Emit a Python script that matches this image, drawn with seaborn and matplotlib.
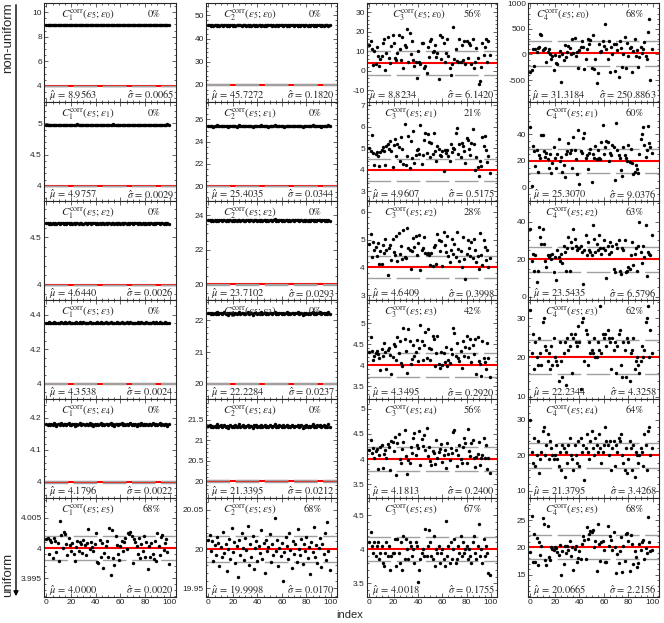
import numpy as np
import matplotlib
matplotlib.use("Agg")
import matplotlib.pyplot as plt
import seaborn as sns
from matplotlib.patches import FancyArrowPatch
from matplotlib.ticker import AutoMinorLocator, FixedLocator, FuncFormatter

sns.set_style("ticks")
plt.rcParams['font.family'] = ['Liberation Sans', 'DejaVu Sans']
plt.rcParams['mathtext.fontset'] = 'stix'

index = np.arange(100)

# ---- C1 column (truth = 4) ----
c1_e0 = [8.956, 8.962, 8.951, 8.958, 8.949, 8.960, 8.955, 8.966, 8.953, 8.957,
         8.961, 8.950, 8.956, 8.963, 8.954, 8.959, 8.947, 8.957, 8.964, 8.952,
         8.958, 8.955, 8.960, 8.949, 8.956, 8.967, 8.953, 8.958, 8.961, 8.955,
         8.950, 8.957, 8.963, 8.954, 8.959, 8.956, 8.946, 8.960, 8.957, 8.962,
         8.953, 8.958, 8.955, 8.965, 8.951, 8.957, 8.960, 8.954, 8.958, 8.949,
         8.962, 8.956, 8.953, 8.959, 8.968, 8.955, 8.957, 8.950, 8.961, 8.956,
         8.954, 8.960, 8.948, 8.957, 8.963, 8.952, 8.958, 8.955, 8.961, 8.957,
         8.951, 8.959, 8.956, 8.964, 8.953, 8.957, 8.960, 8.947, 8.958, 8.955,
         8.962, 8.954, 8.957, 8.950, 8.959, 8.966, 8.955, 8.958, 8.952, 8.960,
         8.956, 8.963, 8.949, 8.957, 8.961, 8.954, 8.958, 8.955, 8.967, 8.953]
c1_e1 = [4.976, 4.978, 4.973, 4.977, 4.972, 4.976, 4.975, 4.980, 4.974, 4.976,
         4.978, 4.973, 4.976, 4.979, 4.974, 4.977, 4.971, 4.976, 4.979, 4.974,
         4.977, 4.975, 4.978, 4.972, 4.976, 4.981, 4.974, 4.976, 4.978, 4.975,
         4.973, 4.976, 4.979, 4.974, 4.977, 4.976, 4.971, 4.978, 4.976, 4.978,
         4.974, 4.977, 4.975, 4.980, 4.973, 4.976, 4.978, 4.974, 4.977, 4.972,
         4.978, 4.976, 4.974, 4.977, 4.981, 4.975, 4.976, 4.973, 4.978, 4.976,
         4.974, 4.978, 4.972, 4.976, 4.979, 4.973, 4.977, 4.975, 4.978, 4.976,
         4.973, 4.977, 4.976, 4.979, 4.974, 4.976, 4.978, 4.971, 4.977, 4.975,
         4.978, 4.974, 4.976, 4.973, 4.977, 4.980, 4.975, 4.977, 4.974, 4.978,
         4.976, 4.979, 4.972, 4.976, 4.978, 4.974, 4.977, 4.975, 4.981, 4.974]
c1_e2 = [4.644, 4.646, 4.641, 4.645, 4.640, 4.644, 4.643, 4.648, 4.642, 4.644,
         4.646, 4.641, 4.644, 4.647, 4.642, 4.645, 4.639, 4.644, 4.647, 4.642,
         4.645, 4.643, 4.646, 4.640, 4.644, 4.649, 4.642, 4.644, 4.646, 4.643,
         4.641, 4.644, 4.647, 4.642, 4.645, 4.644, 4.639, 4.646, 4.644, 4.646,
         4.642, 4.645, 4.643, 4.648, 4.641, 4.644, 4.646, 4.642, 4.645, 4.640,
         4.646, 4.644, 4.642, 4.645, 4.649, 4.643, 4.644, 4.641, 4.646, 4.644,
         4.642, 4.646, 4.640, 4.644, 4.647, 4.641, 4.645, 4.643, 4.646, 4.644,
         4.641, 4.645, 4.644, 4.647, 4.642, 4.644, 4.646, 4.639, 4.645, 4.643,
         4.646, 4.642, 4.644, 4.641, 4.645, 4.648, 4.643, 4.645, 4.642, 4.646,
         4.644, 4.647, 4.640, 4.644, 4.646, 4.642, 4.645, 4.643, 4.649, 4.642]
c1_e3 = [4.354, 4.352, 4.356, 4.351, 4.355, 4.353, 4.357, 4.354, 4.350, 4.354,
         4.355, 4.353, 4.358, 4.352, 4.354, 4.356, 4.351, 4.354, 4.357, 4.353,
         4.352, 4.355, 4.354, 4.350, 4.356, 4.353, 4.355, 4.358, 4.352, 4.354,
         4.356, 4.351, 4.354, 4.355, 4.353, 4.357, 4.352, 4.354, 4.350, 4.355,
         4.353, 4.356, 4.352, 4.354, 4.358, 4.351, 4.355, 4.353, 4.356, 4.354,
         4.351, 4.354, 4.357, 4.353, 4.355, 4.350, 4.354, 4.356, 4.352, 4.355,
         4.354, 4.358, 4.352, 4.355, 4.353, 4.356, 4.351, 4.354, 4.357, 4.353,
         4.355, 4.352, 4.354, 4.350, 4.356, 4.354, 4.353, 4.357, 4.352, 4.355,
         4.353, 4.356, 4.351, 4.354, 4.355, 4.352, 4.358, 4.354, 4.353, 4.356,
         4.352, 4.354, 4.357, 4.351, 4.355, 4.353, 4.356, 4.354, 4.350, 4.355]
c1_e4 = [4.180, 4.178, 4.182, 4.177, 4.181, 4.179, 4.183, 4.180, 4.176, 4.180,
         4.181, 4.179, 4.184, 4.178, 4.180, 4.182, 4.177, 4.180, 4.183, 4.179,
         4.178, 4.181, 4.180, 4.176, 4.182, 4.179, 4.181, 4.184, 4.178, 4.180,
         4.182, 4.177, 4.180, 4.181, 4.179, 4.183, 4.178, 4.180, 4.176, 4.181,
         4.179, 4.182, 4.178, 4.180, 4.184, 4.177, 4.181, 4.179, 4.182, 4.180,
         4.177, 4.180, 4.183, 4.179, 4.181, 4.176, 4.180, 4.182, 4.178, 4.181,
         4.180, 4.184, 4.178, 4.181, 4.179, 4.182, 4.177, 4.180, 4.183, 4.179,
         4.181, 4.178, 4.180, 4.176, 4.182, 4.180, 4.179, 4.183, 4.178, 4.181,
         4.179, 4.182, 4.177, 4.180, 4.181, 4.178, 4.184, 4.180, 4.179, 4.182,
         4.178, 4.180, 4.183, 4.177, 4.181, 4.179, 4.182, 4.180, 4.176, 4.181]
c1_e5 = [4.0015, 4.0016, 3.9990, 4.0013, 4.0010, 3.9984, 4.0017, 4.0012, 3.9993, 4.0008,
         3.9978, 4.0045, 4.0021, 4.0000, 4.0027, 4.0023, 4.0007, 3.9988, 4.0017, 4.0005,
         3.9995, 4.0008, 3.9990, 3.9978, 4.0002, 4.0012, 3.9996, 4.0010, 4.0006, 3.9992,
         4.0014, 4.0005, 3.9988, 4.0008, 4.0032, 3.9999, 4.0010, 4.0002, 3.9996, 4.0007,
         4.0025, 3.9977, 3.9976, 4.0014, 3.9985, 4.0008, 3.9967, 3.9992, 4.0003, 4.0011,
         3.9985, 4.0033, 3.9955, 4.0030, 3.9984, 3.9972, 4.0020, 4.0005, 3.9990, 3.9981,
         4.0003, 4.0012, 3.9996, 4.0010, 4.0017, 3.9998, 4.0025, 4.0023, 4.0026, 4.0020,
         3.9975, 4.0015, 4.0010, 4.0004, 3.9990, 4.0017, 3.9983, 4.0006, 3.9995, 4.0020,
         3.9985, 4.0010, 3.9966, 4.0003, 3.9985, 4.0008, 3.9990, 3.9982, 4.0011, 3.9979,
         4.0025, 4.0003, 3.9988, 4.0019, 4.0022, 3.9997, 4.0009, 4.0015, 3.9993, 3.9973]

# ---- C2 column (truth = 20) ----
c2_e0 = [45.73, 45.91, 45.52, 45.80, 45.61, 45.70, 45.95, 45.64, 45.77, 45.48,
         45.85, 45.69, 45.58, 45.74, 46.02, 45.66, 45.79, 45.55, 45.88, 45.71,
         45.63, 45.82, 45.45, 45.76, 45.68, 45.93, 45.72, 45.57, 45.84, 45.70,
         45.90, 45.60, 45.75, 45.50, 45.81, 45.67, 45.98, 45.73, 45.62, 45.78,
         45.54, 45.86, 45.71, 45.65, 45.89, 45.59, 45.77, 45.44, 45.83, 45.69,
         45.74, 45.96, 45.61, 45.80, 45.56, 45.72, 45.87, 45.66, 46.05, 45.70,
         45.79, 45.53, 45.75, 45.92, 45.64, 45.81, 45.47, 45.73, 45.68, 45.85,
         45.58, 45.77, 45.99, 45.62, 45.74, 45.51, 45.86, 45.70, 45.66, 45.91,
         45.72, 45.60, 45.83, 45.55, 45.78, 45.94, 45.67, 45.75, 45.49, 45.82,
         45.69, 45.88, 45.63, 45.76, 45.57, 45.84, 45.71, 46.00, 45.65, 45.79]
c2_e1 = [25.40, 25.44, 25.37, 25.42, 25.36, 25.41, 25.39, 25.46, 25.38, 25.40,
         25.43, 25.37, 25.41, 25.45, 25.38, 25.42, 25.35, 25.40, 25.44, 25.38,
         25.42, 25.39, 25.43, 25.36, 25.40, 25.47, 25.38, 25.41, 25.43, 25.39,
         25.37, 25.40, 25.44, 25.38, 25.42, 25.40, 25.35, 25.43, 25.40, 25.44,
         25.38, 25.42, 25.39, 25.46, 25.37, 25.40, 25.43, 25.38, 25.42, 25.36,
         25.43, 25.40, 25.38, 25.42, 25.47, 25.39, 25.40, 25.37, 25.43, 25.41,
         25.38, 25.43, 25.36, 25.40, 25.44, 25.37, 25.42, 25.39, 25.43, 25.40,
         25.37, 25.42, 25.40, 25.45, 25.38, 25.41, 25.43, 25.35, 25.42, 25.39,
         25.43, 25.38, 25.40, 25.37, 25.42, 25.46, 25.39, 25.42, 25.38, 25.43,
         25.40, 25.44, 25.36, 25.41, 25.43, 25.38, 25.42, 25.39, 25.47, 25.38]
c2_e2 = [23.71, 23.74, 23.68, 23.72, 23.67, 23.71, 23.70, 23.76, 23.69, 23.71,
         23.74, 23.68, 23.71, 23.75, 23.69, 23.72, 23.66, 23.71, 23.74, 23.69,
         23.72, 23.70, 23.73, 23.67, 23.71, 23.76, 23.69, 23.71, 23.73, 23.70,
         23.68, 23.71, 23.74, 23.69, 23.72, 23.71, 23.66, 23.73, 23.71, 23.74,
         23.69, 23.72, 23.70, 23.75, 23.68, 23.71, 23.73, 23.69, 23.72, 23.67,
         23.73, 23.71, 23.69, 23.72, 23.77, 23.70, 23.71, 23.68, 23.73, 23.71,
         23.69, 23.73, 23.67, 23.71, 23.74, 23.68, 23.72, 23.70, 23.73, 23.71,
         23.68, 23.72, 23.71, 23.75, 23.69, 23.71, 23.73, 23.66, 23.72, 23.70,
         23.73, 23.69, 23.71, 23.68, 23.72, 23.76, 23.70, 23.72, 23.69, 23.73,
         23.71, 23.74, 23.67, 23.71, 23.73, 23.69, 23.72, 23.70, 23.76, 23.69]
c2_e3 = [22.23, 22.25, 22.20, 22.24, 22.21, 22.23, 22.22, 22.27, 22.21, 22.23,
         22.25, 22.21, 22.23, 22.26, 22.22, 22.24, 22.19, 22.23, 22.25, 22.21,
         22.24, 22.22, 22.25, 22.20, 22.23, 22.27, 22.21, 22.23, 22.25, 22.22,
         22.21, 22.23, 22.26, 22.21, 22.24, 22.23, 22.19, 22.25, 22.23, 22.25,
         22.21, 22.24, 22.22, 22.26, 22.20, 22.23, 22.25, 22.21, 22.24, 22.20,
         22.25, 22.23, 22.21, 22.24, 22.27, 22.22, 22.23, 22.20, 22.25, 22.23,
         22.21, 22.25, 22.20, 22.23, 22.26, 22.21, 22.24, 22.22, 22.25, 22.23,
         22.20, 22.24, 22.23, 22.26, 22.21, 22.23, 22.25, 22.19, 22.24, 22.22,
         22.25, 22.21, 22.23, 22.20, 22.24, 22.27, 22.22, 22.24, 22.21, 22.25,
         22.23, 22.26, 22.20, 22.23, 22.25, 22.21, 22.24, 22.22, 22.27, 22.21]
c2_e4 = [21.34, 21.36, 21.32, 21.35, 21.31, 21.34, 21.33, 21.38, 21.32, 21.34,
         21.36, 21.32, 21.34, 21.37, 21.32, 21.35, 21.30, 21.34, 21.36, 21.32,
         21.35, 21.33, 21.36, 21.31, 21.34, 21.38, 21.32, 21.34, 21.36, 21.33,
         21.32, 21.34, 21.37, 21.32, 21.35, 21.34, 21.30, 21.36, 21.34, 21.36,
         21.32, 21.35, 21.33, 21.37, 21.31, 21.34, 21.36, 21.32, 21.35, 21.31,
         21.36, 21.34, 21.32, 21.35, 21.38, 21.33, 21.34, 21.31, 21.36, 21.34,
         21.32, 21.36, 21.31, 21.34, 21.37, 21.32, 21.35, 21.33, 21.36, 21.34,
         21.31, 21.35, 21.34, 21.37, 21.32, 21.34, 21.36, 21.30, 21.35, 21.33,
         21.36, 21.32, 21.34, 21.31, 21.35, 21.38, 21.33, 21.35, 21.32, 21.36,
         21.34, 21.37, 21.31, 21.34, 21.36, 21.32, 21.35, 21.33, 21.38, 21.32]
c2_e5 = [20.012, 20.018, 19.998, 20.010, 19.985, 20.005, 19.992, 20.015, 20.008, 19.978,
         20.003, 19.990, 20.022, 19.995, 20.007, 19.972, 20.000, 20.013, 19.988, 20.027,
         19.996, 20.009, 19.982, 20.004, 19.965, 20.011, 19.993, 20.020, 20.002, 19.986,
         20.014, 19.999, 20.030, 19.980, 20.006, 19.990, 20.017, 19.975, 20.001, 20.010,
         19.985, 20.004, 19.995, 20.024, 19.988, 20.008, 19.970, 20.012, 19.997, 20.003,
         20.019, 19.983, 20.006, 19.993, 20.040, 19.998, 20.011, 19.979, 20.002, 19.991,
         20.008, 19.960, 19.996, 20.015, 20.004, 19.987, 20.021, 19.999, 19.976, 20.010,
         19.994, 20.006, 19.984, 20.025, 20.000, 19.992, 20.013, 19.981, 20.007, 19.997,
         20.016, 19.989, 20.003, 19.968, 20.009, 19.996, 20.028, 19.990, 20.005, 19.982,
         20.001, 20.014, 19.977, 20.007, 19.994, 20.020, 19.986, 20.035, 19.998, 19.974]

# ---- C3 column (truth = 4) ----
c3_e0 = [13.2, 15.4, 11.3, 3.1, 10.2, 3.4, 12.1, 7.3, 2.6, 6.2,
         7.4, 14.2, 16.3, 0.4, 9.1, 17.2, 6.3, 4.1, 12.4, 18.1,
         14.3, 6.4, 5.2, 9.3, 18.2, 11.1, 5.4, 17.3, 1.2, 13.4,
         12.2, 21.3, 4.4, 19.2, 8.3, 15.1, 5.3, 2.4, 4.2, -3.6,
         10.3, 4.6, 3.2, 14.1, 14.4, 1.3, 2.2, -1.4, 12.3, 7.2,
         15.2, 16.1, 9.4, 10.1, 13.3, 7.1, 9.2, -4.2, 18.3, 6.1,
         17.1, 14.2, 4.3, 9.2, 16.2, 7.4, 1.4, -2.3, 3.3, 22.4,
         6.2, 11.2, 5.1, 4.4, 16.4, 4.2, 13.1, 5.3, 15.3, 3.2,
         15.1, 6.3, 14.1, 13.2, 3.4, 16.2, 1.1, 4.3, 11.4, 6.4,
         -7.1, -5.3, 2.1, 14.3, 8.2, 12.1, 16.3, 4.4, 15.2, 8.1]
c3_e1 = [5.02, 4.87, 5.61, 4.78, 4.23, 4.71, 4.83, 4.64, 4.18, 4.81,
         4.93, 5.04, 4.88, 4.22, 5.12, 5.21, 4.97, 5.33, 4.86, 4.12,
         5.14, 5.42, 4.63, 5.18, 5.07, 4.41, 5.52, 4.96, 4.28, 6.11,
         4.24, 4.62, 5.58, 4.08, 5.31, 4.56, 5.79, 4.33, 4.69, 4.91,
         4.98, 4.74, 6.08, 4.27, 4.68, 5.38, 5.71, 4.79, 5.64, 5.27,
         4.58, 5.23, 4.72, 5.68, 4.87, 4.39, 5.09, 4.98, 4.66, 4.62,
         4.86, 3.93, 4.91, 4.77, 4.92, 4.63, 4.42, 5.17, 4.82, 5.02,
         4.97, 5.72, 5.93, 4.73, 5.19, 4.61, 5.22, 5.08, 4.88, 4.31,
         5.48, 5.36, 4.94, 4.68, 5.24, 5.88, 5.17, 3.98, 4.57, 4.14,
         3.72, 4.41, 4.18, 5.53, 5.08, 5.57, 4.92, 4.34, 4.63, 3.84]
c3_e2 = [4.83, 5.21, 4.38, 4.92, 4.61, 4.74, 4.42, 4.87, 4.13, 4.58,
         4.12, 4.79, 4.52, 5.03, 4.64, 3.73, 4.71, 4.82, 4.27, 5.01,
         4.56, 4.43, 5.12, 4.22, 5.24, 4.48, 4.77, 4.31, 5.33, 4.36,
         4.34, 5.41, 4.68, 4.62, 3.93, 4.57, 5.04, 4.73, 5.14, 4.44,
         4.88, 5.18, 3.91, 4.63, 4.69, 5.08, 4.52, 4.49, 4.51, 4.46,
         4.08, 4.53, 4.03, 4.72, 4.81, 4.11, 5.19, 4.98, 4.58, 4.93,
         4.04, 5.27, 4.79, 4.54, 5.11, 4.39, 4.18, 4.61, 5.02, 4.48,
         4.84, 4.37, 5.29, 4.67, 4.21, 4.59, 4.02, 5.09, 4.29, 3.58,
         4.47, 4.97, 4.71, 4.42, 4.91, 4.33, 5.01, 4.64, 4.19, 4.41,
         3.92, 5.23, 4.44, 4.07, 4.99, 4.73, 4.28, 4.62, 4.01, 4.32]
c3_e3 = [4.31, 4.68, 4.34, 4.12, 4.22, 4.29, 4.33, 4.27, 4.18, 3.88,
         4.38, 4.21, 4.52, 4.32, 3.91, 4.36, 4.41, 4.24, 3.78, 4.19,
         4.51, 4.47, 4.13, 4.67, 4.28, 4.58, 4.06, 3.97, 4.89, 4.63,
         4.34, 3.82, 4.87, 4.59, 4.02, 4.14, 4.48, 4.23, 4.31, 4.61,
         4.09, 4.42, 4.96, 4.57, 4.12, 4.49, 4.79, 4.18, 4.87, 4.41,
         4.13, 4.38, 4.71, 4.62, 3.98, 4.29, 4.69, 4.03, 3.94, 4.32,
         4.01, 4.28, 4.08, 4.43, 3.99, 4.12, 4.04, 4.39, 4.27, 4.88,
         4.77, 4.21, 4.52, 4.18, 4.09, 4.33, 3.93, 4.58, 4.22, 4.44,
         4.71, 4.19, 4.42, 4.62, 4.07, 4.48, 4.26, 4.63, 3.79, 4.68,
         4.11, 4.03, 3.74, 4.57, 4.17, 4.08, 3.92, 4.52, 4.16, 3.72]
c3_e4 = [4.19, 4.37, 4.12, 4.22, 4.03, 4.17, 4.21, 3.81, 4.08, 4.24,
         4.28, 3.83, 4.11, 4.19, 4.02, 4.29, 4.23, 3.79, 4.36, 4.33,
         4.17, 4.43, 3.69, 4.31, 4.49, 4.01, 3.93, 4.21, 4.34, 4.58,
         4.07, 3.71, 3.98, 3.92, 4.24, 4.13, 4.41, 4.52, 4.09, 4.27,
         4.22, 4.56, 3.88, 4.39, 4.26, 4.47, 4.18, 4.61, 4.06, 4.23,
         3.97, 3.89, 4.17, 4.12, 3.91, 4.38, 4.02, 4.14, 4.21, 4.29,
         3.94, 4.08, 4.19, 3.82, 4.31, 4.11, 3.98, 4.22, 4.13, 4.54,
         4.57, 4.18, 3.87, 4.09, 4.27, 4.01, 3.93, 4.24, 4.42, 4.31,
         3.92, 4.59, 4.16, 4.07, 4.32, 4.38, 4.02, 3.84, 4.04, 4.11,
         4.33, 3.89, 4.03, 4.09, 4.42, 4.02, 4.28, 3.81, 4.03, 3.73]
c3_e5 = [4.10, 4.25, 4.05, 3.95, 4.10, 3.90, 4.05, 4.10, 3.85, 3.95,
         4.05, 3.80, 3.75, 3.95, 4.10, 3.90, 4.05, 3.70, 3.90, 3.95,
         3.95, 4.15, 3.75, 4.15, 3.95, 3.80, 4.10, 3.70, 4.20, 3.85,
         4.15, 4.00, 3.85, 4.10, 4.05, 3.90, 4.00, 3.80, 4.10, 4.05,
         3.52, 3.70, 3.85, 3.95, 4.00, 3.90, 4.30, 3.90, 4.05, 4.28,
         4.10, 3.90, 3.85, 4.20, 3.75, 4.00, 3.95, 4.05, 3.80, 3.95,
         4.00, 3.85, 3.75, 4.42, 3.90, 4.05, 3.80, 4.10, 3.85, 4.00,
         4.15, 3.80, 3.85, 4.05, 3.95, 4.20, 3.90, 4.10, 3.95, 4.00,
         4.05, 3.85, 4.00, 3.90, 3.80, 4.10, 4.20, 3.95, 3.85, 4.05,
         4.37, 3.90, 4.00, 3.80, 4.15, 3.90, 4.05, 3.95, 3.65, 3.62]

# ---- C4 column (truth = 20) ----
c4_e0 = [-350, -300, 100, -230, 110, 50, 120, 150, 400, 380,
         80, 110, 130, -150, 50, 100, 10, -80, -20, -310,
         -10, -170, -190, -30, 70, -530, 10, -110, 180, -50,
         50, 160, 130, 0, 310, 30, 320, -20, 50, -260,
         80, 150, 260, 150, -290, -80, 110, 300, 200, 280,
         -270, 380, -280, -80, -550, -370, 200, 50, 70, 260,
         170, 600, 100, -90, 270, -350, 150, 10, 210, -320,
         200, 80, -430, 260, 130, -250, 10, 350, -270, 230,
         -20, 120, 150, -340, 70, 310, -30, 90, -250, -50,
         150, 30, 100, 250, -20, -80, 440, 700, -490, 110]
c4_e1 = [45, 1, 31, 27, 16, 28, 12, 24, 22, 39,
         39, 27, 23, 26, 21, 15, 25, 11, 18, 30,
         22, 15, 25, 36, 20, 23, 12, 17, 8, 25,
         27, 33, 26, 28, 15, 38, 28, 21, 10, 43,
         3, 27, 26, 37, 41, 22, 24, 14, 26, 29,
         4, 25, 22, 31, 21, 28, 22, 21, 34, 47,
         25, 30, 35, 34, 20, 26, 24, 32, 30, 6,
         48, 28, 24, 22, 13, 9, 30, 24, 22, 20,
         32, 19, 29, 18, 10, 12, 17, 14, 11, 25,
         36, 40, 45, 32, 23, 28, 46, 33, 30, 26]
c4_e2 = [36, 19, 23, 14, 22, 8, 14, 37, 32, 28,
         36, 28, 19, 16, 22, 21, 22, 20, 23, 13,
         21, 9, 25, 21, 19, 23, 18, 27, 24, 14,
         26, 32, 14, 29, 26, 36, 31, 27, 25, 26,
         26, 27, 24, 7, 25, 33, 22, 29, 25, 24,
         22, 38, 31, 24, 28, 25, 33, 26, 23, 26,
         30, 25, 10, 27, 23, 29, 24, 27, 15, 13,
         28, 26, 30, 14, 12, 26, 25, 30, 13, 14,
         16, 15, 22, 29, 17, 23, 26, 14, 27, 40,
         24, 18, 27, 21, 38, 11, 24, 23, 22, 33]
c4_e3 = [32, 21, 26, 17, 24, 20, 18, 25, 21, 18,
         29, 30, 23, 22, 19, 21, 17, 23, 18, 25,
         20, 19, 18, 14, 24, 19, 15, 21, 24, 13,
         25, 22, 23, 26, 16, 25, 26, 24, 23, 28,
         24, 12, 29, 30, 19, 27, 26, 18, 24, 21,
         22, 21, 25, 20, 20, 24, 22, 33, 21, 26,
         25, 26, 23, 27, 25, 24, 17, 25, 22, 24,
         16, 23, 26, 27, 18, 15, 24, 22, 15, 25,
         24, 14, 21, 22, 25, 17, 19, 20, 18, 16,
         19, 23, 20, 22, 29, 30, 33, 20, 27, 21]
c4_e4 = [30, 21, 18, 25, 17, 20, 24, 15, 19, 21,
         27, 28, 20, 23, 26, 19, 24, 22, 20, 19,
         20, 23, 19, 17, 21, 16, 23, 22, 14, 21,
         18, 23, 25, 20, 19, 16, 23, 20, 18, 24,
         17, 25, 21, 23, 13, 22, 26, 21, 19, 24,
         27, 22, 20, 25, 23, 21, 26, 22, 18, 21,
         23, 28, 24, 23, 20, 24, 16, 22, 24, 17,
         23, 21, 25, 24, 26, 20, 18, 16, 22, 15,
         19, 24, 22, 16, 23, 14, 21, 20, 18, 20,
         22, 21, 17, 26, 23, 16, 27, 28, 20, 22]
c4_e5 = [19.2, 25.8, 17.4, 22.5, 17.4, 21.8, 16.8, 20.9, 18.6, 20.3,
         25.3, 24.2, 17.6, 16.8, 24.0, 18.3, 17.6, 20.1, 19.7, 19.5,
         20.0, 19.8, 19.2, 18.6, 20.4, 15.0, 19.3, 17.0, 20.2, 18.9,
         20.3, 19.6, 21.2, 18.5, 20.0, 15.8, 19.7, 20.3, 17.4, 18.1,
         19.4, 17.8, 20.7, 22.1, 21.3, 17.9, 23.8, 21.5, 22.5, 23.0,
         22.8, 23.1, 20.0, 21.1, 15.7, 24.2, 20.6, 17.5, 20.9, 21.2,
         19.5, 17.3, 17.4, 24.0, 20.2, 22.0, 21.3, 19.6, 22.8, 20.1,
         15.3, 18.8, 17.2, 19.3, 21.9, 15.5, 20.3, 17.5, 22.4, 22.6,
         21.2, 15.6, 22.3, 20.6, 17.0, 19.4, 18.3, 16.4, 17.1, 20.7,
         19.6, 21.0, 21.3, 17.9, 19.8, 18.9, 25.5, 21.0, 19.3, 19.6]

series = [[c1_e0, c1_e1, c1_e2, c1_e3, c1_e4, c1_e5],
          [c2_e0, c2_e1, c2_e2, c2_e3, c2_e4, c2_e5],
          [c3_e0, c3_e1, c3_e2, c3_e3, c3_e4, c3_e5],
          [c4_e0, c4_e1, c4_e2, c4_e3, c4_e4, c4_e5]]

truth = [4, 20, 4, 20]
mu_hat = [[8.9563, 4.9757, 4.6440, 4.3538, 4.1796, 4.0000],
          [45.7272, 25.4035, 23.7102, 22.2284, 21.3395, 19.9998],
          [8.8234, 4.9607, 4.6409, 4.3495, 4.1813, 4.0018],
          [31.3184, 25.3070, 23.5435, 22.2344, 21.3795, 20.0665]]
sigma_hat = [[0.0065, 0.0029, 0.0026, 0.0024, 0.0022, 0.0020],
             [0.1820, 0.0344, 0.0293, 0.0237, 0.0212, 0.0170],
             [6.1420, 0.5175, 0.3998, 0.2920, 0.2400, 0.1755],
             [250.8863, 9.0376, 6.5796, 4.3258, 3.4268, 2.2156]]
percent = [[0, 0, 0, 0, 0, 68],
           [0, 0, 0, 0, 0, 68],
           [56, 21, 28, 42, 56, 67],
           [68, 60, 63, 62, 64, 68]]

# axis ranges and labelled ticks per panel
ylims = [[(2.69, 10.74), (3.76, 5.34), (3.84, 4.88), (3.91, 4.486), (3.95, 4.259), (3.9919, 4.0083)],
         [(12.6, 55.4), (18.66, 27.57), (19.10, 24.84), (19.51, 22.65), (19.59, 22.0), (19.939, 20.065)],
         [(-16.1, 34.7), (2.55, 7.14), (2.82, 6.39), (3.19, 5.56), (3.23, 5.19), (3.30, 4.75)],
         [(-927, 1005), (-10, 63.9), (-1.7, 51), (9.4, 34.6), (8.0, 35.9), (10.9, 29.05)]]
yticks = [[[4, 6, 8, 10], [4, 4.5, 5], [4, 4.5], [4, 4.2, 4.4], [4, 4.1, 4.2], [3.995, 4, 4.005]],
          [[20, 30, 40, 50], [20, 22, 24, 26], [20, 22, 24], [20, 21, 22], [20, 20.5, 21, 21.5], [19.95, 20, 20.05]],
          [[-10, 0, 10, 20, 30], [3, 4, 5, 6, 7], [3, 4, 5, 6], [3.5, 4, 4.5, 5], [3.5, 4, 4.5, 5], [3.5, 4, 4.5]],
          [[-500, 0, 500, 1000], [0, 20, 40], [0, 20, 40], [10, 20, 30], [10, 20, 30], [15, 20, 25]]]

W, H = 664, 623
fig = plt.figure(figsize=(W / 100, H / 100), dpi=100)
col_left = [44, 206, 367, 528]
col_width = [132, 131, 130, 131]
row_top, row_h = 3, 99

serif = 'STIXGeneral'
tick_fmt = FuncFormatter(lambda v, p: ('%g' % round(v, 6)))

for c in range(4):
    for r in range(6):
        rect = [col_left[c] / W, 1 - (row_top + (r + 1) * row_h) / H, col_width[c] / W, row_h / H]
        ax = fig.add_axes(rect)
        T = truth[c]
        s = sigma_hat[c][r]

        ax.axhline(T, color='red', lw=1.5, zorder=1)
        for lvl in (T - s, T + s):
            ax.axhline(lvl, color='#a0a0a0', lw=1.0, dashes=(17, 4), zorder=2)
        sns.scatterplot(x=index, y=series[c][r], ax=ax, color='black', s=6,
                        linewidth=0, legend=False, zorder=3)

        ax.set_xlim(-2, 105)
        ax.set_ylim(*ylims[c][r])
        ax.xaxis.set_major_locator(FixedLocator([0, 20, 40, 60, 80, 100]))
        ax.xaxis.set_minor_locator(AutoMinorLocator(4))
        ax.yaxis.set_major_locator(FixedLocator(yticks[c][r]))
        ax.yaxis.set_minor_locator(AutoMinorLocator())
        ax.yaxis.set_major_formatter(tick_fmt)
        ax.set_xlabel('')
        ax.set_ylabel('')
        ax.tick_params(which='both', direction='in', top=True, right=True,
                       width=0.5, labelsize=6, pad=1.5)
        ax.tick_params(which='major', length=3)
        ax.tick_params(which='minor', length=1.5)
        if r < 5:
            ax.tick_params(labelbottom=False)
        for sp in ax.spines.values():
            sp.set_linewidth(0.8)

        # annotations
        cx = 0.13
        if (c, r) == (2, 0):
            cx = 0.195
        if (c, r) == (3, 0):
            cx = 0.06
        ax.text(cx, 0.855, r'$C_{%d}^{\mathrm{corr}}(\varepsilon_{5};\varepsilon_{%d})$' % (c + 1, r),
                transform=ax.transAxes, ha='left', va='baseline', fontsize=8, family=serif)
        ax.text(0.885, 0.855, '%d%%' % percent[c][r], transform=ax.transAxes,
                ha='right', va='baseline', fontsize=7.5, family=serif)
        mx = 0.04
        if (c, r) == (2, 0):
            mx = 0.018
        if (c, r) == (3, 0):
            mx = 0.03
        ax.text(mx, 0.03, r'$\hat{\mu}$ = %.4f' % mu_hat[c][r], transform=ax.transAxes,
                ha='left', va='baseline', fontsize=7.5, family=serif)
        ax.text(0.985, 0.03, r'$\hat{\sigma}$ = %.4f' % s, transform=ax.transAxes,
                ha='right', va='baseline', fontsize=7.5, family=serif)

fig.text(350 / W, 1 - 615 / H, 'index', ha='center', va='center', fontsize=8)
fig.text(8.5 / W, 1 - 2 / H, 'non-uniform', rotation=90, ha='center', va='top', fontsize=9.5)
fig.text(8.5 / W, 1 - 597 / H, 'uniform', rotation=90, ha='center', va='bottom', fontsize=9.5)
fig.add_artist(FancyArrowPatch((16 / W, 1 - 2 / H), (16 / W, 1 - 599 / H),
                               transform=fig.transFigure, arrowstyle='-|>',
                               mutation_scale=7, lw=1.0, color='black'))

fig.savefig('out.png', dpi=100)
